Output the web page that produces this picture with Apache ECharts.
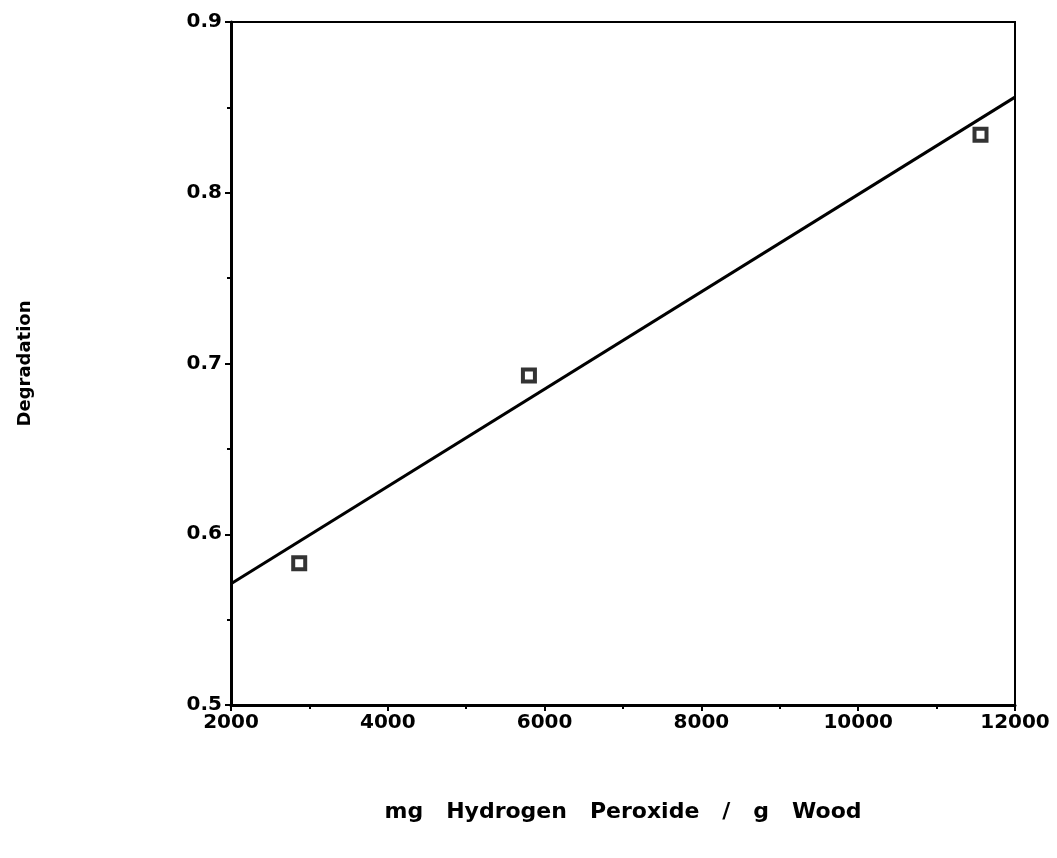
<!DOCTYPE html>
<html>
<head>
<meta charset="utf-8">
<script src="https://cdn.jsdelivr.net/npm/echarts@6/dist/echarts.min.js"></script>
<style>
  html, body { margin: 0; padding: 0; background: #fff; }
  #chart { width: 1057px; height: 858px; }
</style>
</head>
<body>
<div id="chart"></div>
<script>
// measured points
const peroxide = [2870, 5800, 11560];
const degradation = [0.583, 0.693, 0.834];
// fitted line ends
const fitX = [2000, 12000];
const fitY = [0.571, 0.856];

const chart = echarts.init(document.getElementById('chart'));

const labelFont = {
  color: '#000',
  fontFamily: 'DejaVu Sans, Arial, sans-serif',
  fontWeight: 'bold',
  fontSize: 20
};

chart.setOption({
  animation: false,
  grid: {
    left: 231, right: 42, top: 22, bottom: 153,
    show: true, borderColor: '#000', borderWidth: 2
  },
  xAxis: {
    type: 'value',
    min: 2000, max: 12000, interval: 2000,
    name: 'mg   Hydrogen   Peroxide   /   g   Wood',
    nameLocation: 'middle',
    nameGap: 96,
    nameTextStyle: Object.assign({}, labelFont, { fontSize: 22 }),
    axisLine: { lineStyle: { color: '#000', width: 3 } },
    axisTick: { inside: false, length: 6, lineStyle: { color: '#000', width: 2 } },
    minorTick: { show: true, splitNumber: 2, length: 4, lineStyle: { color: '#000', width: 2 } },
    splitLine: { show: false },
    axisLabel: Object.assign({}, labelFont, {
      margin: 8,
      formatter: v => String(v)
    })
  },
  yAxis: {
    type: 'value',
    min: 0.5, max: 0.9, interval: 0.1,
    name: 'Degradation',
    nameLocation: 'middle',
    nameGap: 197,
    nameRotate: 90,
    nameTextStyle: Object.assign({}, labelFont, { fontSize: 18 }),
    axisLine: { lineStyle: { color: '#000', width: 3 } },
    axisTick: { inside: false, length: 6, lineStyle: { color: '#000', width: 2 } },
    minorTick: { show: true, splitNumber: 2, length: 4, lineStyle: { color: '#000', width: 2 } },
    splitLine: { show: false },
    axisLabel: Object.assign({}, labelFont, {
      margin: 9,
      formatter: v => v.toFixed(1)
    })
  },
  series: [
    {
      type: 'line',
      data: fitX.map((x, i) => [x, fitY[i]]),
      showSymbol: false,
      lineStyle: { color: '#000', width: 3 }
    },
    {
      type: 'scatter',
      data: peroxide.map((x, i) => [x, degradation[i]]),
      symbol: 'rect',
      symbolSize: 12,
      itemStyle: { color: '#fff', borderColor: '#000', borderWidth: 4 }
    }
  ]
});
</script>
</body>
</html>
